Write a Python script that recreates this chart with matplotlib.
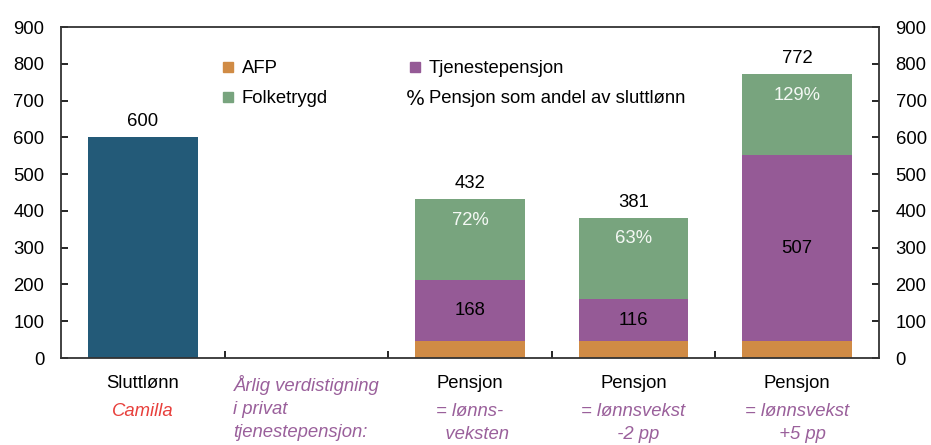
import numpy as np
import matplotlib.pyplot as plt
from matplotlib.lines import Line2D

plt.rcParams['font.family'] = ['Liberation Sans', 'DejaVu Sans']

# data
sluttlonn = 600
afp = [45, 45, 45]
tjenestepensjon = [168, 116, 507]
folketrygd = [219, 220, 220]
andel = [72, 63, 129]
sub_labels = ['= lønns-\n   veksten', '= lønnsvekst\n  -2 pp', '= lønnsvekst\n  +5 pp']

c_blue = '#235a78'
c_afp = '#d08b45'
c_tjen = '#955a96'
c_folk = '#78a47e'
c_txt = '#9a609b'

fig = plt.figure(figsize=(9.31, 4.45), dpi=100)
ax = fig.add_axes([0.0655, 0.1955, 0.8785, 0.7435])

width = 0.67
xp = np.arange(2, 5)

ax.bar(0, sluttlonn, width, color=c_blue)
ax.bar(xp, afp, width, color=c_afp)
ax.bar(xp, tjenestepensjon, width, bottom=afp, color=c_tjen)
bottom2 = np.array(afp) + np.array(tjenestepensjon)
ax.bar(xp, folketrygd, width, bottom=bottom2, color=c_folk)
totals = bottom2 + np.array(folketrygd)

fs = 13.3
ax.annotate(str(sluttlonn), (0, sluttlonn), xytext=(0, 5), textcoords='offset points',
            ha='center', va='bottom', fontsize=fs)
for x, t, tj, b, p in zip(xp, totals, tjenestepensjon, afp, andel):
    ax.annotate(str(t), (x, t), xytext=(0, 5), textcoords='offset points',
                ha='center', va='bottom', fontsize=fs)
    ax.text(x, b + tj / 2, str(tj), ha='center', va='center', fontsize=fs)
    ax.annotate(f'{p}%', (x, t), xytext=(0, -15), textcoords='offset points',
                ha='center', va='center', fontsize=fs, color='#f4f8f4')

# akser
ax.set_xlim(-0.5, 4.5)
ax.set_ylim(0, 900)
ax.set_yticks(np.arange(0, 901, 100))
ax.tick_params(axis='y', direction='in', length=5, width=1.2, labelsize=fs,
               right=True, labelright=True, pad=12)
ax.set_xticks(np.arange(5))
ax.set_xticklabels([''] * 5)
ax.set_xticks(np.arange(0.5, 4.5, 1), minor=True)
ax.tick_params(axis='x', which='major', length=0)
ax.tick_params(axis='x', which='minor', direction='in', length=5, width=1.2)
for s in ax.spines.values():
    s.set_linewidth(1.3)
    s.set_color('#333333')

# kategoritekster
tr = ax.get_xaxis_transform()
y1, y2 = -0.052, -0.137
ax.text(0, y1, 'Sluttlønn', transform=tr, ha='center', va='top', fontsize=fs)
ax.text(0, y2, 'Camilla', transform=tr, ha='center', va='top', fontsize=fs,
        style='italic', color='#e8403c')
ax.text(1, y1, 'Årlig verdistigning\ni privat\ntjenestepensjon:', transform=tr,
        ha='center', va='top', fontsize=fs, style='italic', color=c_txt,
        multialignment='left', linespacing=1.45)
for x, s in zip(xp, sub_labels):
    ax.text(x, y1, 'Pensjon', transform=tr, ha='center', va='top', fontsize=fs)
    ax.text(x, y2, s, transform=tr, ha='center', va='top', fontsize=fs,
            style='italic', color=c_txt, linespacing=1.45)

# tegnforklaring
handles = [
    Line2D([], [], marker='s', ls='none', color=c_afp, markersize=7),
    Line2D([], [], marker='s', ls='none', color=c_folk, markersize=7),
    Line2D([], [], marker='s', ls='none', color=c_tjen, markersize=7),
    Line2D([], [], marker='$\\%$', ls='none', color='black', markersize=12,
           markeredgewidth=0),
]
labels = ['AFP', 'Folketrygd', 'Tjenestepensjon', 'Pensjon som andel av sluttlønn']
ax.legend(handles, labels, ncol=2, frameon=False, fontsize=fs, loc='upper left',
          bbox_to_anchor=(0.176, 0.95), handlelength=0.7, handletextpad=0.4,
          columnspacing=4.35, labelspacing=0.7)

fig.savefig('out.png', dpi=100)
